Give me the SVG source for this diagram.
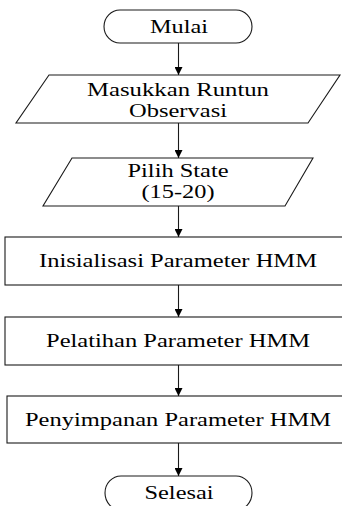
<svg xmlns="http://www.w3.org/2000/svg" width="342" height="506" viewBox="0 0 342 506">
<style>
.s{fill:#fff;stroke:#1a1a1a;stroke-width:1.1}
text{font-family:'Liberation Serif','Times New Roman','DejaVu Serif',serif;font-size:18.5px;fill:#000;text-anchor:middle}
.c{stroke:#1a1a1a;stroke-width:1.1;fill:none}
</style>
<defs>
<marker id="ah" viewBox="0 0 10 10" refX="10" refY="5" markerWidth="8" markerHeight="8" markerUnits="userSpaceOnUse" orient="auto">
<path d="M0,0 L10,5 L0,10 Z" fill="#000"/>
</marker>
</defs>
<rect width="342" height="506" fill="#fff"/>
<g id="connectors">
<line class="c" x1="178.5" y1="43" x2="178.5" y2="75" marker-end="url(#ah)"/>
<line class="c" x1="178.5" y1="123" x2="178.5" y2="158" marker-end="url(#ah)"/>
<line class="c" x1="178.5" y1="206" x2="178.5" y2="237" marker-end="url(#ah)"/>
<line class="c" x1="178.5" y1="285" x2="178.5" y2="317" marker-end="url(#ah)"/>
<line class="c" x1="178.5" y1="365" x2="178.5" y2="396" marker-end="url(#ah)"/>
<line class="c" x1="178.5" y1="443" x2="178.5" y2="476" marker-end="url(#ah)"/>
</g>
<g id="mulai">
<path class="s" d="M120,10 H236 A16,16.5 0 0 1 236,43 H120 A16,16.5 0 0 1 120,10 Z"/>
<text x="179" y="33" textLength="58" lengthAdjust="spacingAndGlyphs">Mulai</text>
</g>
<g id="masukkan">
<path class="s" d="M49,75 H340 L308,123 H16 Z"/>
<text x="178" y="96" textLength="182" lengthAdjust="spacingAndGlyphs">Masukkan Runtun</text>
<text x="178" y="116.5" textLength="98" lengthAdjust="spacingAndGlyphs">Observasi</text>
</g>
<g id="pilih">
<path class="s" d="M72,158 H313 L285,206 H43 Z"/>
<text x="178" y="177" textLength="101" lengthAdjust="spacingAndGlyphs">Pilih State</text>
<text x="178" y="197.5" textLength="73" lengthAdjust="spacingAndGlyphs">(15-20)</text>
</g>
<g id="inisialisasi">
<rect class="s" x="5" y="237" width="350" height="48"/>
<text x="178" y="267" textLength="278" lengthAdjust="spacingAndGlyphs">Inisialisasi Parameter HMM</text>
</g>
<g id="pelatihan">
<rect class="s" x="5" y="317" width="350" height="48"/>
<text x="178" y="347" textLength="264" lengthAdjust="spacingAndGlyphs">Pelatihan Parameter HMM</text>
</g>
<g id="penyimpanan">
<rect class="s" x="7" y="396" width="350" height="47"/>
<text x="178" y="426" textLength="306" lengthAdjust="spacingAndGlyphs">Penyimpanan Parameter HMM</text>
</g>
<g id="selesai">
<path class="s" d="M121,476 H236 A16,17 0 0 1 236,510 H121 A16,17 0 0 1 121,476 Z"/>
<text x="179" y="499" textLength="69" lengthAdjust="spacingAndGlyphs">Selesai</text>
</g>
</svg>
